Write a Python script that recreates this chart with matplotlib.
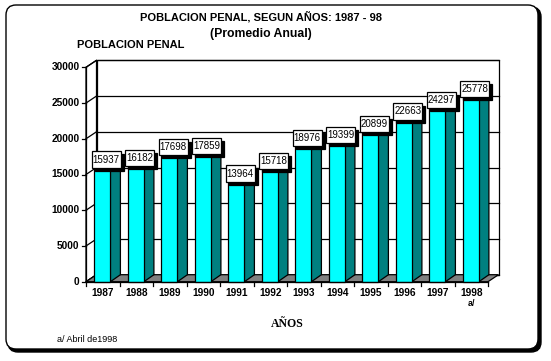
import numpy as np
import matplotlib
matplotlib.use("Agg")
import matplotlib.pyplot as plt
from matplotlib.patches import Rectangle, Polygon, FancyBboxPatch
from matplotlib.transforms import IdentityTransform

# ---- data ----
years = ["1987", "1988", "1989", "1990", "1991", "1992", "1993", "1994",
         "1995", "1996", "1997", "1998"]
values = [15937, 16182, 17698, 17859, 13964, 15718, 18976, 19399,
          20899, 22663, 24297, 25778]
yticks = [0, 5000, 10000, 15000, 20000, 25000, 30000]

# ---- colours ----
c_front = "#00FFFF"
c_side = "#008080"
c_floor = "#808080"

W, H = 551, 361
fig = plt.figure(figsize=(W / 100, H / 100), dpi=100)
fig.patch.set_facecolor("white")

# frame with shadow (pixel coords, origin bottom-left)
shadow = FancyBboxPatch((8, H - 352), 533, 345, boxstyle="round,pad=0,rounding_size=10",
                        transform=IdentityTransform(), facecolor="black", edgecolor="black",
                        lw=1, zorder=-2)
frame = FancyBboxPatch((6, H - 349), 532, 344, boxstyle="round,pad=0,rounding_size=10",
                       transform=IdentityTransform(), facecolor="white", edgecolor="black",
                       lw=1, zorder=-1)
fig.add_artist(shadow)
fig.add_artist(frame)

# pixel mapping of the front plane
x0_px, step_px = 102.75, 33.5          # centre of first category, width of category
y0_px, px_per_val = 281.7, 214.4 / 30000


def u(xp):
    return (xp - x0_px) / step_px


def v(yp):
    return (y0_px - yp) / px_per_val


px0, px1, pyt, pyb = 40, 520, 40, 320
ax = fig.add_axes([px0 / W, 1 - pyb / H, (px1 - px0) / W, (pyb - pyt) / H])
ax.set_zorder(1)
ax.patch.set_visible(False)
ax.set_xlim(u(px0), u(px1))
ax.set_ylim(v(pyb), v(pyt))
ax.axis("off")

DX = 10.5 / step_px
DY = 7 / px_per_val
L, R = -0.5, len(years) - 0.5
top = 30000
lw = 0.9

# back wall
ax.add_patch(Rectangle((L + DX, DY), R - L, top, facecolor="white", edgecolor="black", lw=lw, zorder=1))
for t in yticks:
    ax.plot([L + DX, R + DX], [t + DY, t + DY], color="black", lw=lw, zorder=1.1)
# left wall
ax.add_patch(Polygon([(L, 0), (L, top), (L + DX, top + DY), (L + DX, DY)],
                     closed=True, facecolor="white", edgecolor="black", lw=lw, zorder=1.2))
for t in yticks:
    ax.plot([L, L + DX], [t, t + DY], color="black", lw=lw, zorder=1.3)
# floor
ax.add_patch(Polygon([(L, 0), (R, 0), (R + DX, DY), (L + DX, DY)],
                     closed=True, facecolor=c_floor, edgecolor="black", lw=lw, zorder=1.4))

# bars
bw = 16 / step_px
bdx = 10 / step_px
for i, val in enumerate(values):
    xl = i - bw / 2 - 0.01
    xr = xl + bw
    z = 2 + i * 0.01
    ax.add_patch(Polygon([(xr, 0), (xr + bdx, DY), (xr + bdx, val + DY), (xr, val)],
                         closed=True, facecolor=c_side, edgecolor="black", lw=lw, zorder=z))
    ax.add_patch(Polygon([(xl, val), (xr, val), (xr + bdx, val + DY), (xl + bdx, val + DY)],
                         closed=True, facecolor=c_front, edgecolor="black", lw=lw, zorder=z))
    ax.add_patch(Rectangle((xl, 0), bw, val, facecolor=c_front, edgecolor="black", lw=lw, zorder=z))

# value labels: white box with black drop shadow
box_w = 29 / step_px
box_h = 16.5 / px_per_val
sh_x = 3 / step_px
sh_y = 3 / px_per_val
for i, val in enumerate(values):
    bx = i - bw / 2 - 3 / step_px
    by = val
    ax.add_patch(Rectangle((bx + sh_x, by - sh_y), box_w, box_h, facecolor="black",
                           edgecolor="black", lw=lw, zorder=5, clip_on=False))
    ax.add_patch(Rectangle((bx, by), box_w, box_h, facecolor="white",
                           edgecolor="black", lw=lw, zorder=5.1, clip_on=False))
    ax.text(bx + box_w / 2, by + box_h / 2, str(val), ha="center", va="center",
            fontsize=7, family="Liberation Sans", zorder=6)

# front axes
ax.plot([L, L], [0, top], color="black", lw=lw, zorder=3)
ax.plot([L, R], [0, 0], color="black", lw=lw, zorder=3)
tk = 4 / step_px
for t in yticks:
    ax.plot([L - tk, L], [t, t], color="black", lw=lw, zorder=3)
    ax.text(L - 6.5 / step_px, t, str(t), ha="right", va="center", fontsize=7.3,
            fontweight="bold", family="Liberation Sans")
tky = 4 / px_per_val
for k in range(len(years) + 1):
    ax.plot([L + k, L + k], [0, -tky], color="black", lw=lw, zorder=3)
for i, y in enumerate(years):
    ax.text(i, v(293.5), y, ha="center", va="center", fontsize=7.3,
            fontweight="bold", family="Liberation Sans")
ax.text(len(years) - 1, v(304), "a/", ha="center", va="center", fontsize=6.5,
        fontweight="bold", family="Liberation Sans")

# titles and notes
fig.text(261 / W, 1 - 17.5 / H, "POBLACION PENAL, SEGUN AÑOS: 1987 - 98", ha="center",
         va="center", fontsize=8, fontweight="bold", family="Liberation Sans")
fig.text(261 / W, 1 - 34.5 / H, "(Promedio Anual)", ha="center", va="center",
         fontsize=8.8, fontweight="bold", family="Liberation Sans")
fig.text(77 / W, 1 - 44.5 / H, "POBLACION PENAL", ha="left", va="center",
         fontsize=8, fontweight="bold", family="Liberation Sans")
fig.text(287 / W, 1 - 324 / H, "AÑOS", ha="center", va="center",
         fontsize=8.5, fontweight="bold", family="Liberation Serif")
fig.text(57 / W, 1 - 339.5 / H, "a/ Abril de1998", ha="left", va="center",
         fontsize=6.5, family="Liberation Sans")

fig.savefig("out.png", dpi=100)
